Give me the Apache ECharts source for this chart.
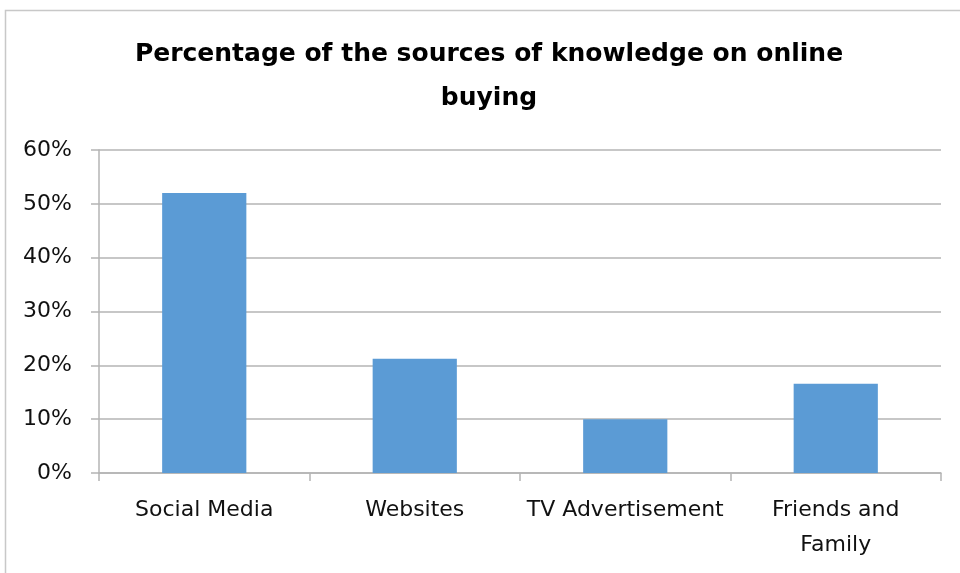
<!DOCTYPE html>
<html>
<head>
<meta charset="utf-8">
<script src="https://cdn.jsdelivr.net/npm/echarts@6/dist/echarts.min.js"></script>
<style>
  html, body { margin: 0; padding: 0; background: #fff; }
  #chart { width: 960px; height: 573px; }
</style>
</head>
<body>
<div id="chart"></div>
<script>
// Knowledge sources for online buying, share of respondents
const categories = ['Social Media', 'Websites', 'TV Advertisement', 'Friends and\nFamily'];
const shares = [0.52, 0.212, 0.10, 0.166];
const yTicks = { min: 0, max: 0.6, step: 0.1 };
const titleText = 'Percentage of the sources of knowledge on online\nbuying';

const FONT = '"DejaVu Sans", sans-serif';
const GRID_GREY = '#b4b4b4';

const chart = echarts.init(document.getElementById('chart'), null, { renderer: 'canvas' });

chart.setOption({
  backgroundColor: '#ffffff',
  animation: false,
  title: {
    text: titleText,
    left: 484,
    textAlign: 'center',
    top: 27,
    textStyle: {
      fontFamily: FONT,
      fontSize: 25,
      fontWeight: 'bold',
      color: '#000',
      lineHeight: 44,
      align: 'center'
    }
  },
  graphic: [{
    type: 'rect',
    shape: { x: 5.5, y: 10.5, width: 980, height: 600 },
    style: { fill: 'none', stroke: '#c8c8c8', lineWidth: 1.5 },
    silent: true,
    z: -1
  }],
  grid: { left: 99, right: 19, top: 150, bottom: 100, containLabel: false },
  xAxis: {
    type: 'category',
    data: categories,
    axisLine: { show: true, lineStyle: { color: GRID_GREY, width: 1.5 } },
    axisTick: { show: true, length: 8, lineStyle: { color: GRID_GREY, width: 1.5 } },
    axisLabel: {
      margin: 20,
      fontFamily: FONT,
      fontSize: 22,
      color: '#111',
      lineHeight: 35,
      interval: 0
    }
  },
  yAxis: {
    type: 'value',
    min: yTicks.min,
    max: yTicks.max,
    interval: yTicks.step,
    axisLine: { show: true, lineStyle: { color: GRID_GREY, width: 1.5 } },
    axisTick: { show: true, length: 8, lineStyle: { color: GRID_GREY, width: 1.5 } },
    splitLine: { show: true, lineStyle: { color: GRID_GREY, width: 1.5 } },
    axisLabel: {
      margin: 27,
      fontFamily: FONT,
      fontSize: 22,
      color: '#111',
      formatter: v => Math.round(v * 100) + '%'
    }
  },
  series: [{
    type: 'bar',
    data: shares,
    barWidth: '40%',
    itemStyle: { color: '#5b9bd5' }
  }]
});
</script>
</body>
</html>
